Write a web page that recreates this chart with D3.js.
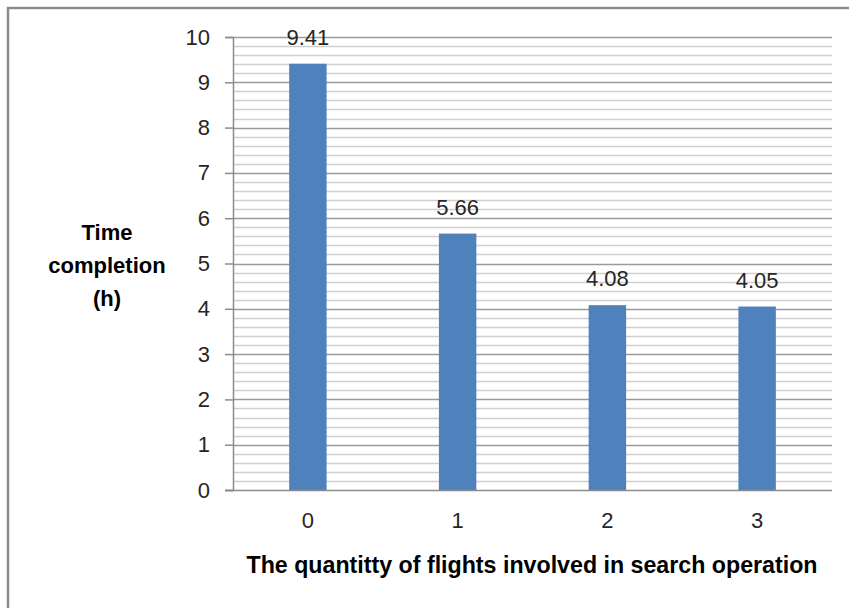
<!DOCTYPE html>
<html>
<head>
<meta charset="utf-8">
<script src="https://cdn.jsdelivr.net/npm/d3@7"></script>
<style>
  html, body { margin: 0; padding: 0; background: #fff; }
  svg { display: block; }
</style>
</head>
<body>
<svg id="chart" width="849" height="608"></svg>
<script>
// Completion time by number of flights involved
const categories = ["0", "1", "2", "3"];
const values = [9.41, 5.66, 4.08, 4.05];
const yTicks = [0, 1, 2, 3, 4, 5, 6, 7, 8, 9, 10];
const yTitleLines = ["Time", "completion", "(h)"];
const xTitle = "The quantitty of flights involved in search operation";

const svg = d3.select("#chart");
const W = 849, H = 608;
const plot = { left: 233, right: 832, top: 37, bottom: 490 };
const font = "Liberation Sans, Arial, sans-serif";

svg.append("rect").attr("width", W).attr("height", H).attr("fill", "#fff");

// Outer frame (top and left edges visible)
svg.append("path")
  .attr("d", `M8,${H} V8 H${W}`)
  .attr("fill", "none").attr("stroke", "#8c8c8c").attr("stroke-width", 2.5);

const x = d3.scaleBand().domain(categories)
  .range([plot.left, plot.right]).paddingInner(0.75).paddingOuter(0.375);
const y = d3.scaleLinear().domain([0, 10]).range([plot.bottom, plot.top]);

// Minor gridlines every 0.2
const minor = d3.range(0, 10.001, 0.2).filter(v => Math.abs(v - Math.round(v)) > 1e-6);
svg.append("g").selectAll("line").data(minor).join("line")
  .attr("x1", plot.left).attr("x2", plot.right)
  .attr("y1", d => Math.round(y(d)) + 0.5).attr("y2", d => Math.round(y(d)) + 0.5)
  .attr("stroke", "#cfcfcf").attr("stroke-width", 1.5);

// Major gridlines
svg.append("g").selectAll("line").data(yTicks.slice(1)).join("line")
  .attr("x1", plot.left).attr("x2", plot.right)
  .attr("y1", d => Math.round(y(d)) + 0.5).attr("y2", d => Math.round(y(d)) + 0.5)
  .attr("stroke", "#9a9a9a").attr("stroke-width", 1.5);

// Y axis
const yAxis = svg.append("g").attr("transform", `translate(${plot.left},0)`)
  .call(d3.axisLeft(y).tickValues(yTicks).tickSize(8).tickPadding(15));
yAxis.select(".domain").attr("stroke", "#8c8c8c").attr("stroke-width", 1.5);
yAxis.selectAll(".tick line").attr("stroke", "#8c8c8c").attr("stroke-width", 1.5);
yAxis.selectAll(".tick text").attr("font-family", font).attr("font-size", 22).attr("fill", "#262626");

// Bars
svg.append("g").selectAll("rect").data(values).join("rect")
  .attr("x", (d, i) => x(categories[i]))
  .attr("y", d => y(d))
  .attr("width", x.bandwidth())
  .attr("height", d => y(0) - y(d))
  .attr("fill", "#4f81bd");

// X axis
const xAxis = svg.append("g").attr("transform", `translate(0,${plot.bottom})`)
  .call(d3.axisBottom(x).tickSize(0).tickPadding(22));
xAxis.select(".domain").attr("stroke", "#8c8c8c").attr("stroke-width", 1.5)
  .attr("d", `M${plot.left - 8},0.5H${plot.right}`);
xAxis.selectAll(".tick text").attr("font-family", font).attr("font-size", 22).attr("fill", "#262626");

// Value labels
svg.append("g").selectAll("text").data(values).join("text")
  .attr("x", (d, i) => x(categories[i]) + x.bandwidth() / 2)
  .attr("y", d => y(d) - 19)
  .attr("text-anchor", "middle")
  .attr("font-family", font).attr("font-size", 22).attr("fill", "#262626")
  .text(d => d.toFixed(2));

// Y title, three centred lines
svg.append("g").selectAll("text").data(yTitleLines).join("text")
  .attr("x", 107).attr("y", (d, i) => 240 + i * 33)
  .attr("text-anchor", "middle")
  .attr("font-family", font).attr("font-size", 22).attr("font-weight", "bold").attr("fill", "#000")
  .text(d => d);

// X title
svg.append("text")
  .attr("x", 532).attr("y", 573)
  .attr("text-anchor", "middle")
  .attr("font-family", font).attr("font-size", 23).attr("font-weight", "bold").attr("fill", "#000")
  .attr("textLength", 571).attr("lengthAdjust", "spacingAndGlyphs")
  .text(xTitle);
</script>
</body>
</html>
